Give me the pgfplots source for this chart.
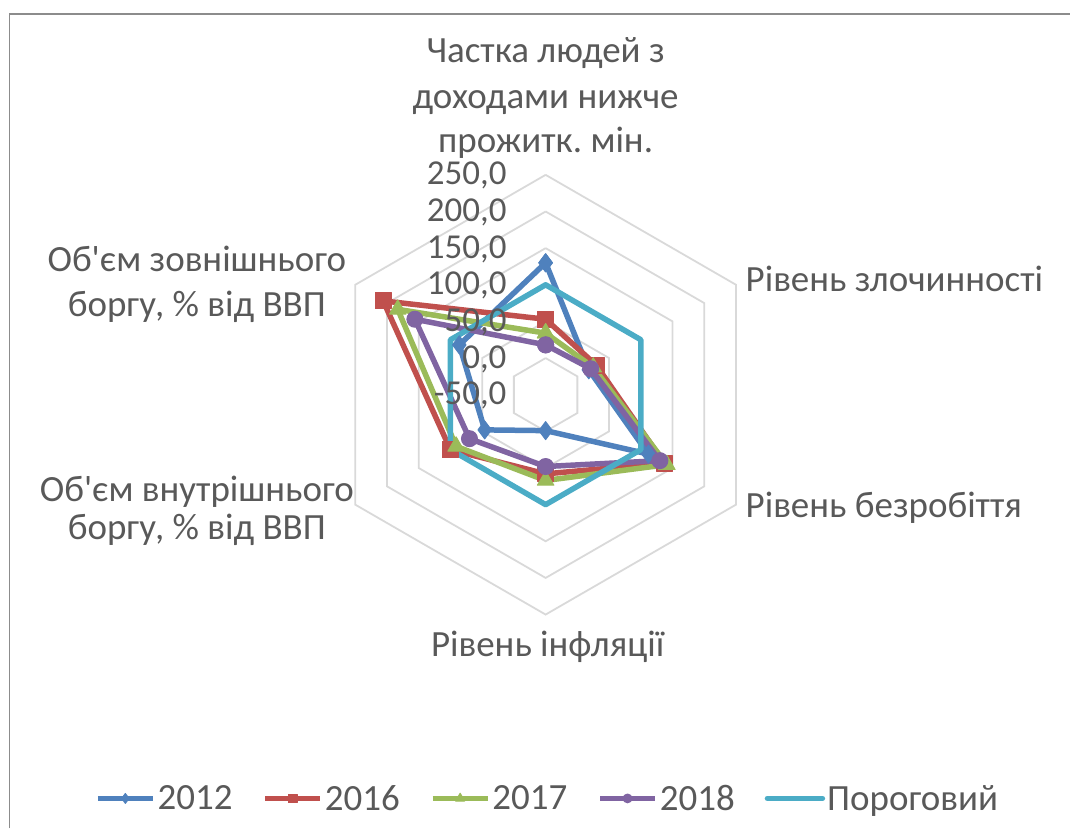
\documentclass[border=0pt]{standalone}
\usepackage{pgfplots}
\usepackage{pgfplotstable}
\pgfplotsset{compat=1.18}
\usepackage{fontspec}
\setmainfont{Carlito}[Ligatures=TeXOff]
\frenchspacing
\definecolor{c12}{HTML}{4F81BD}
\definecolor{c16}{HTML}{C0504D}
\definecolor{c17}{HTML}{9BBB59}
\definecolor{c18}{HTML}{8064A2}
\definecolor{cth}{HTML}{4BACC6}
\definecolor{txt}{HTML}{595959}
\definecolor{grd}{HTML}{D9D9D9}
\definecolor{frm}{HTML}{8C8C8C}

\pgfplotstableread{
ang y2012 y2016 y2017 y2018 thr
90 130 53 34 18 100
30 18 30 25 21 100
-30 112 137 141 130 100
-90 -1 58 67 48 100
-150 46 100 91 70 100
-210 86 206 183 156 100
-270 130 53 34 18 100
}\radar

\begin{document}
\frenchspacing
\begin{tikzpicture}[every node/.style={text=txt, inner sep=0pt, font=\fontsize{37}{44}\selectfont\frenchspacing}]
\path (0pt,0pt) rectangle (1071pt,829pt);
\begin{axis}[
  at={(0pt,0pt)}, anchor=south west,
  x=0.73333pt, y=0.73333pt,
  xmin=-744.55, xmax=715.9, ymin=-591.82, ymax=538.64,
  hide axis, clip=false,
  legend columns=5,
  legend style={at={(rel axis cs:0.0887,0.03619)}, anchor=west, draw=none, fill=none,
    inner sep=0pt, font=\fontsize{37}{44}\selectfont, text=txt,
    nodes={inner xsep=2pt, inner ysep=0pt},
    /tikz/every even column/.append style={column sep=28pt}},
  legend image code/.code={\draw[#1, every mark/.append style={scale=0.55}, mark repeat=2, mark phase=2] plot coordinates {(0pt,0pt)(27.5pt,0pt)(55pt,0pt)};},
]
\pgfplotsinvokeforeach{50,100,150,200,250,300}{
  \addplot[grd, line width=1.8pt, data cs=polar, forget plot] coordinates {(90,#1)(30,#1)(-30,#1)(-90,#1)(-150,#1)(-210,#1)(-270,#1)};
}
\addplot[c12, line width=5.5pt, line join=round, data cs=polar, mark=diamond*, mark size=9pt, mark options={fill=c12, draw=c12, line width=1pt}]
  table[x=ang, y expr=\thisrow{y2012}+50] {\radar};
\addplot[c16, line width=5.5pt, line join=round, data cs=polar, mark=square*, mark size=8pt, mark options={fill=c16, draw=c16, line width=1pt}]
  table[x=ang, y expr=\thisrow{y2016}+50] {\radar};
\addplot[c17, line width=5.5pt, line join=round, data cs=polar, mark=triangle*, mark size=9.5pt, mark options={fill=c17, draw=c17, line width=1pt}]
  table[x=ang, y expr=\thisrow{y2017}+50] {\radar};
\addplot[c18, line width=5.5pt, line join=round, data cs=polar, mark=*, mark size=8pt, mark options={fill=c18, draw=c18, line width=1pt}]
  table[x=ang, y expr=\thisrow{y2018}+50] {\radar};
\addplot[cth, line width=5.5pt, line join=round, line cap=round, data cs=polar]
  table[x=ang, y expr=\thisrow{thr}+50] {\radar};
\legend{2012,2016,2017,2018,Пороговий}
\end{axis}
% frame
\draw[frm, line width=1.5pt] (9.5pt,0pt) -- (9.5pt,815pt) -- (1071pt,815pt);
% radial tick labels
\begin{scope}[every node/.append style={font=\fontsize{35}{42}\selectfont}]
\node[anchor=east] at (507pt,{829pt-176pt}) {250,0};
\node[anchor=east] at (507pt,{829pt-212.7pt}) {200,0};
\node[anchor=east] at (507pt,{829pt-249.3pt}) {150,0};
\node[anchor=east] at (507pt,{829pt-286pt}) {100,0};
\node[anchor=east] at (507pt,{829pt-322.7pt}) {50,0};
\node[anchor=east] at (507pt,{829pt-359.3pt}) {0,0};
\node[anchor=east] at (507pt,{829pt-396pt}) {-50,0};
\end{scope}
% category labels
\node[anchor=base] at (546pt,766pt) {Частка людей з};
\node[anchor=base] at (546pt,720pt) {доходами нижче};
\node[anchor=base] at (546pt,676pt) {прожитк. мін.};
\node[anchor=base west] at (746pt,537pt) {Рівень злочинності};
\node[anchor=base west] at (746pt,311pt) {Рівень безробіття};
\node[anchor=base] at (548pt,172pt) {Рівень інфляції};
\node[anchor=base] at (197pt,557pt) {Об'єм зовнішнього};
\node[anchor=base] at (197pt,512pt) {боргу, \% від ВВП};
\node[anchor=base] at (197pt,327pt) {Об'єм внутрішнього};
\node[anchor=base] at (197pt,289pt) {боргу, \% від ВВП};
\end{tikzpicture}
\end{document}
